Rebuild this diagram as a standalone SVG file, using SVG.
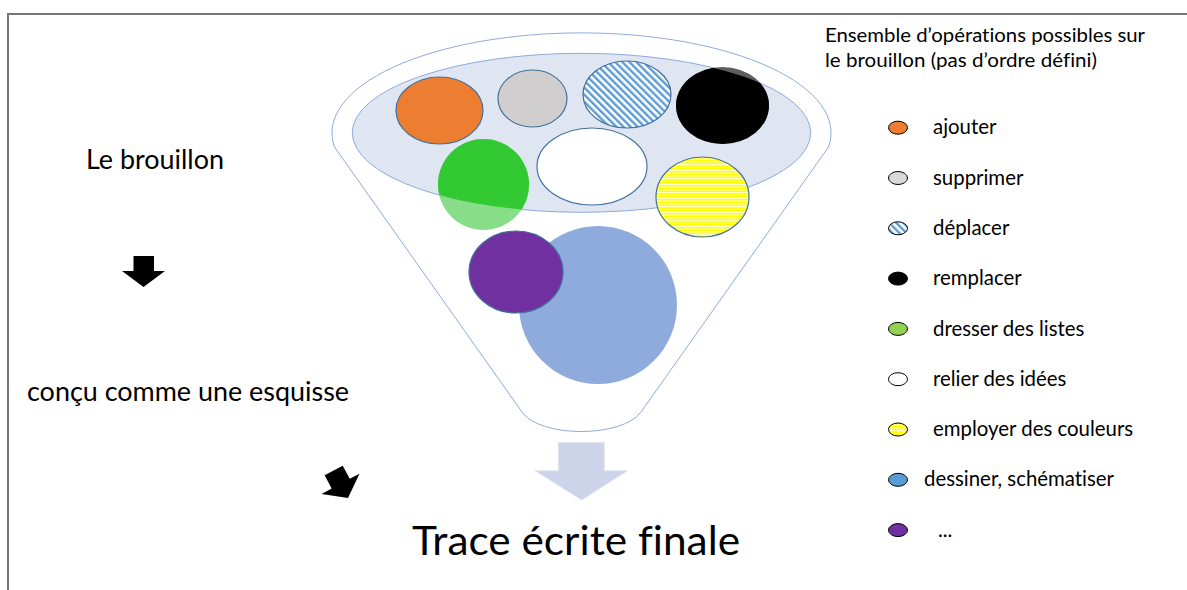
<svg xmlns="http://www.w3.org/2000/svg" width="1187" height="590" viewBox="0 0 1187 590">
  <style>
    .t { font-family: Lato, "Liberation Sans", sans-serif; fill: #000; font-variant-ligatures: none; font-feature-settings: "liga" 0, "clig" 0; }
    .li { font-size: 20.4px; }
    .op { stroke: #41719c; stroke-width: 1.2; }
    .lg { stroke: #000; stroke-width: 1; }
  </style>
  <defs>
    <pattern id="diag" patternUnits="userSpaceOnUse" width="5" height="5" patternTransform="rotate(-45)">
      <rect width="5" height="5" fill="#fff"/>
      <rect width="2.4" height="5" fill="#5b9bd5"/>
    </pattern>
    <pattern id="hstripe" patternUnits="userSpaceOnUse" width="4" height="2.8">
      <rect width="4" height="2.8" fill="#fff"/>
      <rect width="4" height="1.8" fill="#ffff00"/>
    </pattern>
    <clipPath id="inner">
      <ellipse cx="581.5" cy="132.8" rx="229.2" ry="79.5"/>
    </clipPath>
  </defs>

  <rect x="8" y="14" width="1190" height="600" fill="none" stroke="#767676" stroke-width="2"/>

  <g id="funnel">
    <path d="M 334.5,147 A 249.5 100 0 1 1 828.5,147 L 641,412 C 622,438 540,438 522,412 Z" fill="#fff" stroke="#8faadc" stroke-width="1"/>
    <ellipse cx="581.5" cy="132.8" rx="229.2" ry="79.5" fill="#e0e5f2" stroke="#8faadc" stroke-width="1"/>
  </g>

  <g id="op-ajouter"><ellipse class="op" cx="439.5" cy="110.5" rx="43.5" ry="33.5" fill="#ed7d31"/></g>
  <g id="op-supprimer"><ellipse class="op" cx="532.5" cy="98.5" rx="34.5" ry="28.5" fill="#d0cece"/></g>
  <g id="op-deplacer"><ellipse class="op" cx="627" cy="94.5" rx="44" ry="33.5" fill="url(#diag)"/></g>
  <g id="op-remplacer">
    <ellipse cx="722.5" cy="105.5" rx="46.5" ry="38.5" fill="#5e5e5e"/>
    <ellipse cx="722.5" cy="105.5" rx="46.5" ry="38.5" fill="#000" clip-path="url(#inner)"/>
  </g>
  <g id="op-listes">
    <ellipse cx="483.5" cy="184.5" rx="45.5" ry="45.5" fill="#88de88"/>
    <ellipse cx="483.5" cy="184.5" rx="45.5" ry="45.5" fill="#33c933" clip-path="url(#inner)"/>
  </g>
  <g id="op-relier"><ellipse class="op" cx="592" cy="166.5" rx="55" ry="38.5" fill="#fff"/></g>
  <g id="op-couleurs"><ellipse class="op" cx="702.5" cy="197" rx="46.5" ry="40" fill="url(#hstripe)"/></g>
  <g id="op-dessiner"><circle cx="598" cy="305" r="79" fill="#8faadc"/></g>
  <g id="op-autres"><ellipse class="op" cx="516" cy="272" rx="47" ry="41" fill="#7030a0"/></g>

  <g id="connectors">
    <path d="M 558.3,442.3 L 604.3,442.3 L 604.3,470.7 L 627.7,470.7 L 581.7,500 L 535,470.7 L 558.3,470.7 Z" fill="#cdd4ea" stroke="#e3e7f3" stroke-width="1"/>
    <path d="M 133.5,256 L 154,256 L 154,271 L 165,271 L 143.5,287 L 122,271 L 133.5,271 Z" fill="#000"/>
    <path d="M 133.5,256 L 154,256 L 154,271 L 165,271 L 143.5,287 L 122,271 L 133.5,271 Z" fill="#000" transform="translate(340.5,483.8) rotate(-28) translate(-143.5,-271)"/>
  </g>

  <g id="left-labels">
    <text class="t" x="86" y="169" font-size="26" textLength="138" lengthAdjust="spacingAndGlyphs">Le brouillon</text>
    <text class="t" x="27" y="401" font-size="26" textLength="322" lengthAdjust="spacingAndGlyphs">conçu comme une esquisse</text>
    <text class="t" x="412" y="554.5" font-size="40.5" textLength="328" lengthAdjust="spacingAndGlyphs">Trace écrite finale</text>
  </g>

  <g id="legend">
    <text class="t" x="825" y="42" font-size="19.5" textLength="320" lengthAdjust="spacingAndGlyphs">Ensemble d’opérations possibles sur</text>
    <text class="t" x="825" y="67" font-size="19.5" textLength="272" lengthAdjust="spacingAndGlyphs">le brouillon (pas d’ordre défini)</text>

    <g id="lg-ajouter"><ellipse class="lg" cx="898" cy="127.7" rx="9.5" ry="6.5" fill="#ed7d31"/><text class="t li" x="933" y="134.3">ajouter</text></g>
    <g id="lg-supprimer"><ellipse class="lg" cx="898" cy="178" rx="9.5" ry="6.5" fill="#d9d9d9"/><text class="t li" x="933" y="184.6">supprimer</text></g>
    <g id="lg-deplacer"><ellipse class="lg" cx="898" cy="228.3" rx="9.5" ry="6.5" fill="url(#diag)"/><text class="t li" x="933" y="234.9">déplacer</text></g>
    <g id="lg-remplacer"><ellipse class="lg" cx="898" cy="278.6" rx="9.5" ry="6.5" fill="#000"/><text class="t li" x="933" y="285.2">remplacer</text></g>
    <g id="lg-listes"><ellipse class="lg" cx="898" cy="328.9" rx="9.5" ry="6.5" fill="#92d050"/><text class="t li" x="933" y="335.5">dresser des listes</text></g>
    <g id="lg-relier"><ellipse class="lg" cx="898" cy="379.2" rx="9.5" ry="6.5" fill="#fff"/><text class="t li" x="933" y="385.8">relier des idées</text></g>
    <g id="lg-couleurs"><ellipse class="lg" cx="898" cy="429.5" rx="9.5" ry="6.5" fill="url(#hstripe)"/><text class="t li" x="933" y="436.1">employer des couleurs</text></g>
    <g id="lg-dessiner"><ellipse class="lg" cx="898" cy="479.8" rx="9.5" ry="6.5" fill="#5b9bd5"/><text class="t li" x="924" y="486.4">dessiner, schématiser</text></g>
    <g id="lg-autres"><ellipse class="lg" cx="898" cy="530.1" rx="9.5" ry="6.5" fill="#7030a0"/><text class="t li" x="938" y="536.7">...</text></g>
  </g>
</svg>
